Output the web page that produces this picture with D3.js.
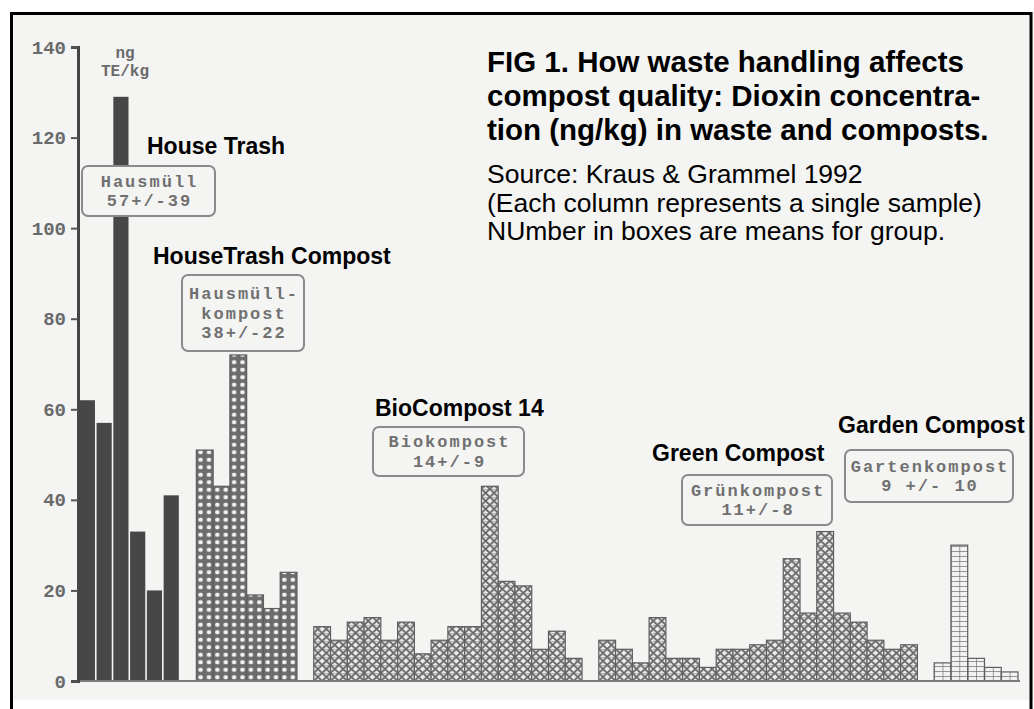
<!DOCTYPE html>
<html>
<head>
<meta charset="utf-8">
<script src="https://cdn.jsdelivr.net/npm/d3@7"></script>
<style>
  html, body { margin: 0; padding: 0; background: #fff; }
  svg { display: block; }
</style>
</head>
<body>
<div id="chart"></div>
<script>
// dioxin per sample, ng TE/kg
const hausmuell = [62, 57, 129, 33, 20, 41];
const hausmuellKompost = [51, 43, 72, 19, 16, 24];
const bioKompost = [12, 9, 13, 14, 9, 13, 6, 9, 12, 12, 43, 22, 21, 7, 11, 5];
const gruenKompost = [9, 7, 4, 14, 5, 5, 3, 7, 7, 8, 9, 27, 15, 33, 15, 13, 9, 7, 8];
const gartenKompost = [4, 30, 5, 3, 2];

const groupNames = ['House Trash', 'HouseTrash Compost', 'BioCompost 14', 'Green Compost', 'Garden Compost'];
const boxTexts = [
    ['Hausmüll', '57+/-39'],
    ['Hausmüll-', 'kompost', '38+/-22'],
    ['Biokompost', '14+/-9'],
    ['Grünkompost', '11+/-8'],
    ['Gartenkompost', '9 +/- 10']
];
const yTicks = [0, 20, 40, 60, 80, 100, 120, 140];
const unitLines = ['ng', 'TE/kg'];
const titleLines = ['FIG 1. How waste handling affects', 'compost quality: Dioxin concentra-', 'tion (ng/kg) in waste and composts.'];
const noteLines = ['Source: Kraus & Grammel 1992', '(Each column represents a single sample)', 'NUmber in boxes are means for group.'];

const series = [hausmuell, hausmuellKompost, bioKompost, gruenKompost, gartenKompost];
const fills = ['solid', 'dots', 'cross', 'cross', 'grid'];

// where the annotations sit (layout only)
const nameAt = [[147, 154], [153, 264], [375, 416], [652, 461], [838, 433]];
const boxAt = [[82, 166, 133, 50], [182, 275, 122, 76], [373, 427, 151, 49], [682, 475, 150, 50], [845, 450, 168, 52]];

const W = 1034, H = 709;
const monoFont = '"Liberation Mono", "DejaVu Sans Mono", monospace';
const sansFont = '"Liberation Sans", Arial, sans-serif';

// one slot per sample, plus an empty slot between groups
let slots = [];
series.forEach((vals, g) => {
    if (g > 0) slots.push({ key: 'gap' + g, gap: true });
    vals.forEach((v, i) => slots.push({ key: g + '-' + i, g: g, v: v }));
});

let x = d3.scaleBand()
    .domain(slots.map(d => d.key))
    .range([79, 1018])
    .padding(0);
let y = d3.scaleLinear()
    .domain([0, 140])
    .range([681, 47]);
let bw = x.bandwidth();

let svg = d3.select('#chart').append('svg')
    .attr('width', W)
    .attr('height', H);

svg.append('rect')
    .attr('x', 11).attr('y', 12)
    .attr('width', W).attr('height', 688)
    .style('fill', '#f4f4f3');

// patterns, lined up with the bands so each bar gets two columns
let defs = svg.append('defs');
let dots = defs.append('pattern')
    .attr('id', 'dots')
    .attr('patternUnits', 'userSpaceOnUse')
    .attr('x', 79).attr('y', y(0))
    .attr('width', bw / 2).attr('height', 7.5);
dots.append('rect').attr('width', bw / 2).attr('height', 7.5).style('fill', '#6c6c6c');
dots.append('ellipse')
    .attr('cx', bw / 4).attr('cy', 3.75)
    .attr('rx', 2.3).attr('ry', 2.2)
    .style('fill', '#f2f2f2');

let cross = defs.append('pattern')
    .attr('id', 'cross')
    .attr('patternUnits', 'userSpaceOnUse')
    .attr('x', 79).attr('y', y(0))
    .attr('width', bw / 2).attr('height', 8);
cross.append('rect').attr('width', bw / 2).attr('height', 8).style('fill', '#ececec');
cross.append('path')
    .attr('d', `M0,0L${bw / 2},8M${bw / 2},0L0,8`)
    .style('stroke', '#6a6a6a')
    .style('stroke-width', 1.9);
cross.append('path')
    .attr('d', `M0,0H${bw / 2}`)
    .style('stroke', '#777')
    .style('stroke-width', 1);

let grid = defs.append('pattern')
    .attr('id', 'grid')
    .attr('patternUnits', 'userSpaceOnUse')
    .attr('x', 79).attr('y', y(0))
    .attr('width', bw / 2).attr('height', 5);
grid.append('rect').attr('width', bw / 2).attr('height', 5).style('fill', '#f2f2f2');
grid.append('path')
    .attr('d', `M0,0H${bw / 2}M0,0V5`)
    .style('stroke', '#777')
    .style('stroke-width', 1.4);

// bars
let bars = slots.filter(d => !d.gap);
svg.append('g').selectAll('rect')
    .data(bars)
    .join('rect')
        .attr('x', d => fills[d.g] === 'solid' ? x(d.key) + 0.8 : x(d.key))
        .attr('y', d => y(d.v))
        .attr('width', d => fills[d.g] === 'solid' ? bw - 1.6 : bw)
        .attr('height', d => y(0) - y(d.v))
        .style('fill', d => fills[d.g] === 'solid' ? '#474747' : `url(#${fills[d.g]})`)
        .style('stroke', d => fills[d.g] === 'solid' ? 'none' : '#5e5e5e')
        .style('stroke-width', 1.2);

// baseline
svg.append('line')
    .attr('x1', 72).attr('x2', 1020)
    .attr('y1', y(0)).attr('y2', y(0))
    .style('stroke', '#7a7a7a')
    .style('stroke-width', 2);

// y axis
let axis = d3.axisLeft(y)
    .tickValues(yTicks)
    .tickSize(7)
    .tickPadding(5);
let gy = svg.append('g')
    .attr('transform', 'translate(78,0)')
    .call(axis);
gy.select('.domain')
    .style('stroke', '#444')
    .style('stroke-width', 3);
gy.selectAll('.tick line')
    .style('stroke', '#555')
    .style('stroke-width', 2);
gy.selectAll('.tick text')
    .style('font-family', monoFont)
    .style('font-weight', 'bold')
    .style('font-size', '19px')
    .style('fill', '#6a6a6a');

svg.append('g').selectAll('text')
    .data(unitLines)
    .join('text')
        .attr('x', 125)
        .attr('y', (d, i) => 58 + i * 18)
        .attr('text-anchor', 'middle')
        .style('font-family', monoFont)
        .style('font-weight', 'bold')
        .style('font-size', '16px')
        .style('fill', '#6a6a6a')
        .text(d => d);

// boxes with the group means
boxTexts.forEach((lines, g) => {
    let b = boxAt[g];
    let box = svg.append('g');
    box.append('rect')
        .attr('x', b[0]).attr('y', b[1])
        .attr('width', b[2]).attr('height', b[3])
        .attr('rx', 6).attr('ry', 6)
        .style('fill', '#f4f4f3')
        .style('stroke', '#8a8a8a')
        .style('stroke-width', 2);
    let lh = 19.5;
    let top = b[1] + b[3] / 2 - (lines.length - 1) * lh / 2 + 5.5;
    box.selectAll('text')
        .data(lines)
        .join('text')
            .attr('x', b[0] + b[2] / 2 + 1)
            .attr('y', (d, i) => top + i * lh)
            .attr('text-anchor', 'middle')
            .style('font-family', monoFont)
            .style('font-weight', 'bold')
            .style('font-size', '17px')
            .style('letter-spacing', '2px')
            .style('fill', '#707070')
            .text(d => d);
});

// english group names
svg.append('g').selectAll('text')
    .data(groupNames)
    .join('text')
        .attr('x', (d, i) => nameAt[i][0])
        .attr('y', (d, i) => nameAt[i][1])
        .style('font-family', sansFont)
        .style('font-weight', 'bold')
        .style('font-size', '23px')
        .style('fill', '#000')
        .text(d => d);

// title and notes
svg.append('g').selectAll('text')
    .data(titleLines)
    .join('text')
        .attr('x', 487)
        .attr('y', (d, i) => 72 + i * 34)
        .style('font-family', sansFont)
        .style('font-weight', 'bold')
        .style('font-size', '29.5px')
        .style('fill', '#000')
        .text(d => d);
svg.append('g').selectAll('text')
    .data(noteLines)
    .join('text')
        .attr('x', 487)
        .attr('y', (d, i) => 183 + i * 28.5)
        .style('font-family', sansFont)
        .style('font-size', '26.5px')
        .style('fill', '#000')
        .text(d => d);

// frame
svg.append('path')
    .attr('d', `M11.5,${H}V13.5H${W - 3}V${H}`)
    .style('fill', 'none')
    .style('stroke', '#000')
    .style('stroke-width', 3);
</script>
</body>
</html>
